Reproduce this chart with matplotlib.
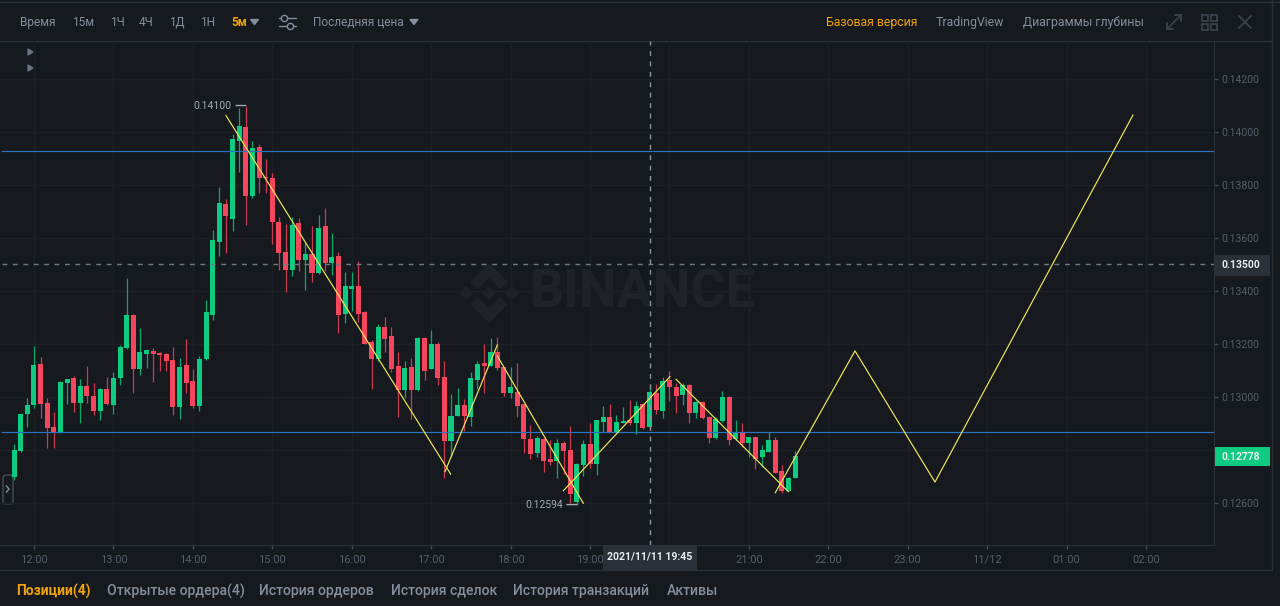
import numpy as np
import matplotlib
matplotlib.use("Agg")
import matplotlib.pyplot as plt
from matplotlib.patches import Rectangle, Polygon, FancyBboxPatch

plt.rcParams['font.family'] = ['Roboto', 'DejaVu Sans']

# 5m candles, first one at 11:45
open_p = [
    .12698,.12796,.12936,.12970,.13125,.12977,.12887,.12865,.13053,.13072,
    .12977,.13042,.13004,.12946,.13029,.12971,.13072,.13186,.13310,.13107,
    .13162,.13173,.13167,.13163,.13141,.12962,.13121,.13059,.12965,.13142,
    .13310,.13586,.13728,.13673,.13967,.14019,.13760,.13944,.13832,.13826,
    .13661,.13546,.13479,.13657,.13517,.13540,.13467,.13644,.13506,.13532,
    .13312,.13408,.13419,.13321,.13209,.13142,.13263,.13230,.13117,.13026,
    .13114,.13026,.13222,.13106,.13201,.13074,.12835,.12929,.12969,.12925,
    .13064,.13130,.13118,.13170,.13112,.13016,.13020,.12973,.12843,.12788,
    .12843,.12765,.12759,.12828,.12800,.12605,.12743,.12823,.12747,.12907,
    .12923,.12863,.12901,.12913,.12901,.12974,.12886,.13016,.12948,.13064,
    .13039,.13008,.13045,.12939,.12980,.12923,.12844,.12911,.13001,.12840,
    .12865,.12825,.12848,.12772,.12794,.12838,.12721,.12646,.12695]
high_p = [
    .12823,.12940,.12996,.13194,.13152,.12996,.12943,.13062,.13069,.13080,
    .13067,.13117,.13052,.13033,.13074,.13096,.13196,.13448,.13313,.13259,
    .13182,.13186,.13169,.13166,.13188,.13146,.13219,.13105,.13155,.13366,
    .13629,.13794,.13747,.13991,.14092,.14100,.13967,.13956,.13898,.13847,
    .13680,.13652,.13680,.13677,.13586,.13647,.13687,.13713,.13620,.13548,
    .13473,.13473,.13513,.13323,.13215,.13276,.13303,.13265,.13169,.13136,
    .13146,.13225,.13225,.13253,.13206,.13137,.13010,.13033,.12991,.13093,
    .13136,.13199,.13222,.13228,.13115,.13114,.13127,.12975,.12894,.12853,
    .12846,.12838,.12842,.12834,.12891,.12750,.12838,.12901,.12913,.12966,
    .12973,.12932,.12963,.12989,.12986,.12978,.13049,.13049,.13077,.13099,
    .13052,.13052,.13048,.12986,.12986,.12927,.12926,.13022,.13005,.12913,
    .12901,.12850,.12850,.12819,.12869,.12848,.12743,.12699,.12797]
low_p = [
    .12687,.12792,.12887,.12960,.12922,.12808,.12809,.12863,.12974,.12942,
    .12903,.12979,.12932,.12913,.12971,.12935,.13044,.13180,.13014,.13082,
    .13108,.13058,.13099,.13099,.12932,.12916,.13014,.12960,.12947,.13140,
    .13291,.13532,.13545,.13627,.13850,.13649,.13752,.13771,.13769,.13576,
    .13479,.13397,.13457,.13477,.13403,.13435,.13464,.13477,.13460,.13240,
    .13278,.13325,.13284,.13199,.13029,.13137,.13171,.13096,.12923,.12995,
    .12917,.13024,.13064,.13104,.13045,.12694,.12775,.12928,.12872,.12891,
    .13030,.13016,.13117,.13102,.13004,.12995,.12926,.12790,.12767,.12772,
    .12716,.12743,.12695,.12709,.12599,.12594,.12703,.12733,.12706,.12869,
    .12868,.12860,.12900,.12894,.12860,.12878,.12882,.12936,.12920,.12986,
    .12939,.12970,.12901,.12920,.12918,.12825,.12840,.12907,.12819,.12838,
    .12810,.12772,.12728,.12737,.12793,.12712,.12637,.12645,.12694]
close_p = [
    .12800,.12936,.12970,.13122,.12974,.12883,.12867,.13057,.13069,.12977,
    .13040,.13003,.12946,.13031,.12974,.13072,.13190,.13310,.13107,.13169,
    .13176,.13163,.13159,.13137,.12962,.13114,.13054,.12965,.13145,.13321,
    .13594,.13733,.13682,.13973,.14023,.13760,.13939,.13825,.13825,.13659,
    .13544,.13479,.13649,.13516,.13539,.13467,.13639,.13506,.13530,.13310,
    .13419,.13419,.13314,.13201,.13142,.13265,.13218,.13106,.13026,.13109,
    .13026,.13222,.13099,.13201,.13071,.12835,.12929,.12969,.12929,.13072,
    .13123,.13118,.13170,.13108,.13014,.13039,.12967,.12842,.12784,.12846,
    .12759,.12756,.12826,.12795,.12635,.12748,.12822,.12747,.12912,.12923,
    .12869,.12906,.12909,.12901,.12966,.12882,.13018,.12951,.13062,.13039,
    .13004,.13045,.12941,.12980,.12921,.12846,.12916,.12999,.12838,.12865,
    .12825,.12848,.12766,.12800,.12838,.12714,.12646,.12693,.12778]

# drawn trend lines, hours after 12:00 and price
trend_lines = [
    ([2.417, 5.246], [.14062, .12709]),
    ([5.174, 5.833], [.12718, .13196]),
    ([5.833, 6.916], [.13155, .12599]),
    ([6.664, 8.007], [.12646, .13077]),
    ([8.083, 9.496], [.13067, .12643]),
    ([9.333, 10.336, 11.343, 13.836], [.12639, .13174, .12679, .14064]),
]
level_lines = [.13928, .12868]
cross_price = .13500
cross_hour = 7.75
last_price = .12778

# 20:00 and 0.12800 are covered by the value boxes in the screenshot
x_hours = list(range(15))
x_labels = ['12:00', '13:00', '14:00', '15:00', '16:00', '17:00', '18:00', '19:00',
            '', '21:00', '22:00', '23:00', '11/12', '01:00', '02:00']
y_ticks = [.126, .128, .130, .132, .134, .136, .138, .140, .142]
y_labels = ['0.12600', '', '0.13000', '0.13200', '0.13400', '0.13600', '0.13800', '0.14000', '0.14200']

toolbar_left = [('Время', 20), ('15м', 72), ('1Ч', 110), ('4Ч', 139), ('1Д', 169), ('1Н', 200)]
toolbar_right = [('TradingView', 936), ('Диаграммы глубины', 1023)]
tabs = [('Открытые ордера(4)', 107), ('История ордеров', 259), ('История сделок', 391),
        ('История транзакций', 513), ('Активы', 667)]

BG = '#161a1e'
GRID = '#1d2126'
LINE = '#2b3139'
GRAY = '#848e9c'
DIM = '#565e6a'
ORANGE = '#f0a30b'
GREEN = '#0ecb81'
RED = '#f6465d'
YELLOW = '#efe85c'
BLUE = '#2a73c0'


def px_axes(fig, z):
    a = fig.add_axes([0, 0, 1, 1], zorder=z)
    a.set_xlim(0, 1280)
    a.set_ylim(606, 0)
    a.axis('off')
    a.patch.set_alpha(0)
    return a


fig = plt.figure(figsize=(12.8, 6.06), dpi=100, facecolor=BG)
ui = px_axes(fig, 0)
top = px_axes(fig, 5)

# chart area is x 0-1214, y 41-545 in pixels
ax = fig.add_axes([0, (606 - 545) / 606, 1214 / 1280, 504 / 606], zorder=2)
ax.patch.set_alpha(0)
ax.set_xlim(-0.428, 14.856)
ax.set_ylim(.124415, .143434)
for s in ['top', 'left']:
    ax.spines[s].set_visible(False)
ax.spines['right'].set_color(LINE)
ax.spines['bottom'].set_color(LINE)
ax.yaxis.tick_right()
ax.set_xticks(x_hours)
ax.set_xticklabels(x_labels)
ax.set_yticks(y_ticks)
ax.set_yticklabels(y_labels)
ax.tick_params(axis='x', length=3, width=1, color='#474d57', labelcolor=DIM, labelsize=8, pad=4)
ax.tick_params(axis='y', length=3, width=1, color='#474d57', labelcolor=DIM, labelsize=7.5, pad=2.5)
ax.grid(True, color=GRID, lw=1)
ax.set_axisbelow(True)

# watermark
wm = '#1f2328'
ui.text(530, 293, 'BINANCE', color=wm, fontsize=38.5, fontweight='bold', va='center', ha='left')
for cx in [466, 489, 512]:
    ui.add_patch(Polygon([(cx - 6, 293), (cx, 287), (cx + 6, 293), (cx, 299)], color=wm))
ui.add_patch(Polygon([(471, 282), (489, 264), (507, 282), (500, 288), (489, 277), (478, 288)], color=wm))
ui.add_patch(Polygon([(471, 304), (489, 322), (507, 304), (500, 298), (489, 309), (478, 298)], color=wm))

# candles
n = len(open_p)
hours = -0.25 + np.arange(n) / 12
op = np.array(open_p)
cl = np.array(close_p)
up = cl >= op
ax.vlines(hours[up], np.array(low_p)[up], np.array(high_p)[up], color='#0ba86c', lw=0.9, zorder=3)
ax.vlines(hours[~up], np.array(low_p)[~up], np.array(high_p)[~up], color='#c93c50', lw=0.9, zorder=3)
ax.bar(hours[up], (cl - op)[up], bottom=op[up], width=0.063, color=GREEN, zorder=4, lw=0)
ax.bar(hours[~up], (op - cl)[~up], bottom=cl[~up], width=0.063, color=RED, zorder=4, lw=0)

for v in level_lines:
    ax.plot([-0.4, 14.856], [v, v], color=BLUE, lw=0.85, zorder=5)
ax.plot([-0.4, 14.856], [cross_price, cross_price], color='#6f7885', lw=1, dashes=(3.5, 4), zorder=5)
ax.axvline(cross_hour, color='#8a929e', lw=1, dashes=(3.5, 4), zorder=5)
for xs, ys in trend_lines:
    ax.plot(xs, ys, color=YELLOW, lw=0.85, zorder=6)

# max and min labels
i_max = int(np.argmax(high_p))
i_min = int(np.argmin(low_p))
lab = '#a4aab3'
ax.annotate('%.5f' % high_p[i_max], xy=(hours[i_max], high_p[i_max]), xytext=(-14, 0),
            textcoords='offset pixels', color=lab, fontsize=7.5, va='center', ha='right',
            arrowprops=dict(arrowstyle='-', color=lab, lw=1, shrinkA=1, shrinkB=0), zorder=7)
ax.annotate('%.5f' % low_p[i_min], xy=(hours[i_min], low_p[i_min]), xytext=(-14, 0),
            textcoords='offset pixels', color=lab, fontsize=7.5, va='center', ha='right',
            arrowprops=dict(arrowstyle='-', color=lab, lw=1, shrinkA=1, shrinkB=0), zorder=7)

# chrome lines
ui.plot([0, 1280], [1.5, 1.5], color=LINE, lw=1)
ui.plot([0, 1272], [41, 41], color=LINE, lw=1)
ui.plot([0, 1272], [570, 570], color=LINE, lw=1)
ui.plot([1271.5, 1271.5], [0, 570], color=LINE, lw=1)

# toolbar
for t, x in toolbar_left:
    ui.text(x, 22.5, t, color=GRAY, fontsize=8.6, va='center', ha='left')
ui.text(231, 22.5, '5м', color=ORANGE, fontsize=8.6, fontweight='bold', va='center', ha='left')
ui.text(313, 22.5, 'Последняя цена', color=GRAY, fontsize=8.6, va='center', ha='left')
for x in [250.5, 410]:
    ui.add_patch(Polygon([(x, 19.5), (x + 8, 19.5), (x + 4, 24.5)], color=GRAY))
for y, cx in [(18, 284), (26, 290)]:
    ui.plot([279, 296], [y, y], color=GRAY, lw=1)
    ui.plot([cx], [y], marker='o', ms=4.5, mfc=BG, mec=GRAY, mew=1)
ui.text(826, 22.5, 'Базовая версия', color=ORANGE, fontsize=8.8, va='center', ha='left')
for t, x in toolbar_right:
    ui.text(x, 22.5, t, color=GRAY, fontsize=8.8, va='center', ha='left')

icon = '#3f4650'
ui.plot([1167, 1181], [29, 15], color=icon, lw=1.2)
ui.plot([1167, 1167, 1173], [23, 29, 29], color=icon, lw=1.2)
ui.plot([1175, 1181, 1181], [15, 15, 21], color=icon, lw=1.2)
for gx in [1202, 1211]:
    for gy in [15, 24]:
        ui.add_patch(Rectangle((gx, gy), 6, 5.5, fill=False, ec=icon, lw=1.2))
ui.plot([1239, 1251], [16, 28], color=icon, lw=1.2)
ui.plot([1239, 1251], [28, 16], color=icon, lw=1.2)

# side arrows and collapse handle
for y in [52, 68]:
    ui.add_patch(Polygon([(28, y - 3), (28, y + 3), (33, y)], color='#6a7280'))
ui.add_patch(FancyBboxPatch((3, 475), 10, 29, boxstyle='round,pad=0,rounding_size=3', fc=BG, ec='#474d57', lw=1))
ui.plot([6.5, 9, 6.5], [486, 489, 492], color=GRAY, lw=1)

# tabs
ui.text(16, 591, 'Позиции(4)', color=ORANGE, fontsize=10, fontweight='bold', va='center', ha='left')
for t, x in tabs:
    ui.text(x, 591, t, color=GRAY, fontsize=10.05, fontweight='medium', va='center', ha='left')

# value boxes on top of the axes
box = '#2b3139'
top.add_patch(Rectangle((1215, 255), 55, 21, color=box, lw=0))
top.text(1241, 265.5, '%.5f' % cross_price, color='#eaecef', fontsize=7.5, fontweight='bold', va='center', ha='center')
top.add_patch(Rectangle((1215, 447), 55, 19, color=GREEN, lw=0))
top.text(1241, 456.5, '%.5f' % last_price, color='#eaecef', fontsize=7.5, fontweight='bold', va='center', ha='center')
top.add_patch(Rectangle((603, 546), 94, 24, color=box, lw=0))
top.text(650, 556, '2021/11/11 19:45', color='#eaecef', fontsize=7.6, fontweight='bold', va='center', ha='center')

fig.savefig('out.png', dpi=100, facecolor=BG)
